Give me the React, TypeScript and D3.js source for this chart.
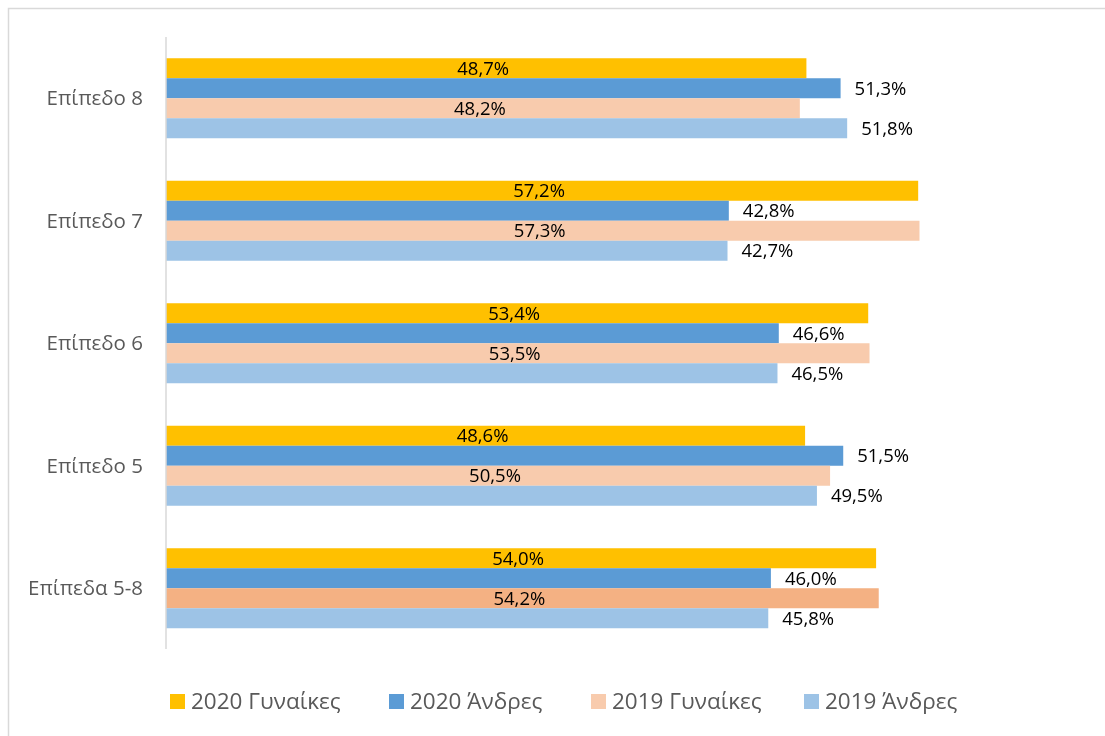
import { useEffect, useRef } from 'react';
import * as d3 from 'd3';

const categories = ['Επίπεδο 8', 'Επίπεδο 7', 'Επίπεδο 6', 'Επίπεδο 5', 'Επίπεδα 5-8'];
const seriesNames = ['2020 Γυναίκες', '2020 Άνδρες', '2019 Γυναίκες', '2019 Άνδρες'];
const women2020 = [48.7, 57.2, 53.4, 48.6, 54.0];
const men2020 = [51.3, 42.8, 46.6, 51.5, 46.0];
const women2019 = [48.2, 57.3, 53.5, 50.5, 54.2];
const men2019 = [51.8, 42.7, 46.5, 49.5, 45.8];
const colors = ['#FFC000', '#5B9BD5', '#F8CBAD', '#9DC3E6'];
const highlightColor = '#F4B183';

const FONT = "'Open Sans', sans-serif";

export default function App() {
  const svgRef = useRef<SVGSVGElement>(null);

  useEffect(() => {
    if (!svgRef.current) return;
    const svg = d3.select(svgRef.current);
    svg.selectAll('*').remove();

    const series = [women2020, men2020, women2019, men2019];

    // outer frame (only top and left edges are visible)
    svg
      .append('path')
      .attr('d', 'M8.5,740 V8.5 H1110')
      .attr('fill', 'none')
      .attr('stroke', '#d9d9d9')
      .attr('stroke-width', 1.5);

    const x = d3.scaleLinear().domain([0, 60]).range([166, 166 + 60 * 13.15]);
    const y = d3.scaleBand<string>().domain(categories).range([37, 649.5]).padding(0);
    const bw = y.bandwidth();
    const inner = d3
      .scaleBand<number>()
      .domain([0, 1, 2, 3])
      .range([bw / 2 - 40, bw / 2 + 40]);

    const fmt = (v: number) => v.toFixed(1).replace('.', ',') + '%';

    categories.forEach((cat, ci) => {
      const g = svg.append('g').attr('transform', `translate(0,${y(cat)})`);
      series.forEach((vals, si) => {
        const v = vals[ci];
        const fill = si === 2 && ci === categories.length - 1 ? highlightColor : colors[si];
        g.append('rect')
          .attr('x', x(0))
          .attr('y', inner(si)!)
          .attr('width', x(v) - x(0))
          .attr('height', inner.bandwidth())
          .attr('fill', fill);
        const isWomen = si === 0 || si === 2;
        g.append('text')
          .attr('x', isWomen ? (x(0) + x(v)) / 2 - 3 : x(v) + 14)
          .attr('y', inner(si)! + inner.bandwidth() / 2)
          .attr('dy', '0.35em')
          .attr('text-anchor', isWomen ? 'middle' : 'start')
          .attr('font-family', FONT)
          .attr('font-size', 18.5)
          .attr('fill', '#000')
          .text(fmt(v));
      });
      g.append('text')
        .attr('x', 143)
        .attr('y', bw / 2)
        .attr('dy', '0.35em')
        .attr('text-anchor', 'end')
        .attr('font-family', FONT)
        .attr('font-size', 20.5)
        .attr('fill', '#595959')
        .text(cat);
    });

    // vertical axis line
    svg
      .append('line')
      .attr('x1', x(0))
      .attr('x2', x(0))
      .attr('y1', 37)
      .attr('y2', 649)
      .attr('stroke', '#d9d9d9')
      .attr('stroke-width', 1.5);

    // legend
    const legendX = [170, 389, 591, 804];
    seriesNames.forEach((name, i) => {
      const lg = svg.append('g').attr('transform', `translate(${legendX[i]},701)`);
      lg.append('rect').attr('x', 0).attr('y', -7).attr('width', 15).attr('height', 15).attr('fill', colors[i]);
      lg.append('text')
        .attr('x', 21)
        .attr('y', 0)
        .attr('dy', '0.35em')
        .attr('font-family', FONT)
        .attr('font-size', 22.5)
        .attr('fill', '#595959')
        .text(name);
    });
  }, []);

  return (
    <svg
      ref={svgRef}
      width={1105}
      height={736}
      style={{ display: 'block', position: 'fixed', left: 0, top: 0 }}
    />
  );
}
